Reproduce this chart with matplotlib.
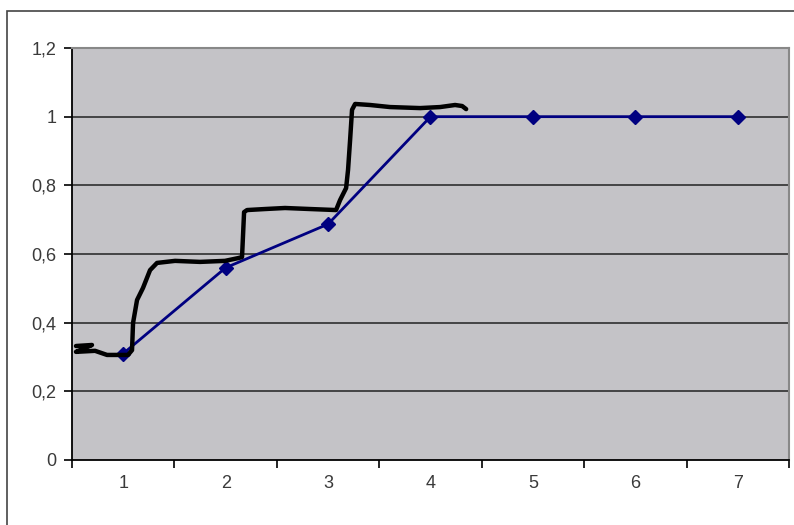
import matplotlib.pyplot as plt
from matplotlib.patches import Rectangle

plt.rcParams['font.family'] = ['Liberation Sans', 'DejaVu Sans']

# Excel series (blue, diamond markers)
categories = [1, 2, 3, 4, 5, 6, 7]
values = [0.31, 0.56, 0.687, 1.0, 1.0, 1.0, 1.0]

# hand-drawn black line in data coordinates
sketch_x = [0.539, 0.695, 0.578, 0.539, 0.725, 0.842, 1.047, 1.086, 1.096, 1.135,
            1.193, 1.262, 1.330, 1.506, 1.750, 1.994, 2.121, 2.160, 2.180, 2.209,
            2.385, 2.580, 2.824, 3.078, 3.117, 3.176, 3.195, 3.215, 3.234, 3.264,
            3.410, 3.605, 3.898, 4.094, 4.240, 4.309, 4.348]
sketch_y = [0.332, 0.335, 0.320, 0.315, 0.318, 0.306, 0.306, 0.320, 0.399, 0.466,
            0.501, 0.553, 0.574, 0.580, 0.577, 0.580, 0.588, 0.591, 0.722, 0.728,
            0.731, 0.734, 0.731, 0.728, 0.757, 0.792, 0.845, 0.932, 1.020, 1.037,
            1.034, 1.028, 1.025, 1.028, 1.034, 1.031, 1.022]

y_ticks = [0, 0.2, 0.4, 0.6, 0.8, 1.0, 1.2]
y_labels = ['0', '0,2', '0,4', '0,6', '0,8', '1', '1,2']

fig = plt.figure(figsize=(7.94, 5.25), dpi=100)

# outer chart frame (right and bottom run off the picture)
fig.patches.append(Rectangle((7 / 794, -0.05), 1.2, 1 - 11 / 525 + 0.05,
                             transform=fig.transFigure, fill=False,
                             edgecolor='#444444', linewidth=1.2))

ax = fig.add_axes([72 / 794, 65 / 525, 717 / 794, 412 / 525])
ax.set_facecolor('#c4c3c7')

ax.set_xlim(0.5, 7.5)
ax.set_ylim(0, 1.2)

for y in y_ticks[1:-1]:
    ax.axhline(y, color='#222222', linewidth=1.1, zorder=1)

ax.plot(categories, values, color='#000080', linewidth=2, marker='D',
        markersize=7, zorder=3)
ax.plot(sketch_x, sketch_y, color='black', linewidth=3.2,
        solid_capstyle='round', solid_joinstyle='round', zorder=4)

ax.set_yticks(y_ticks)
ax.set_yticklabels(y_labels)
ax.set_xticks([c - 0.5 for c in categories] + [7.5])
ax.set_xticklabels([])
ax.set_xticks(categories, minor=True)
ax.set_xticklabels([str(c) for c in categories], minor=True)

ax.tick_params(axis='both', which='major', direction='out', length=6,
               width=1.2, color='black', labelsize=13, labelcolor='#3a3a3a')
ax.tick_params(axis='x', which='minor', length=0, pad=11,
               labelsize=13, labelcolor='#3a3a3a')
ax.tick_params(axis='y', pad=5)

for side in ['left', 'bottom']:
    ax.spines[side].set_color('black')
    ax.spines[side].set_linewidth(1.3)
for side in ['top', 'right']:
    ax.spines[side].set_color('#888888')
    ax.spines[side].set_linewidth(1.5)

fig.savefig('out.png', dpi=100)
